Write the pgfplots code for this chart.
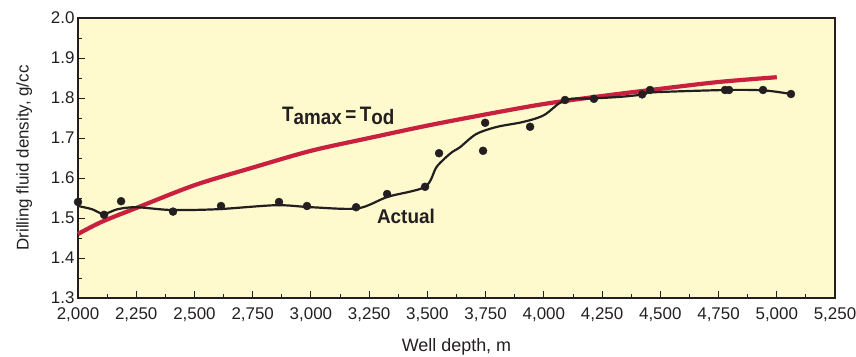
\documentclass[border=0pt]{standalone}
\usepackage{fontspec}
\setmainfont{Liberation Sans}
\newfontfamily\condfont[FakeStretch=0.9]{Liberation Sans}
\newfontfamily\condfontb[FakeStretch=0.95]{Liberation Sans}
\usepackage{pgfplots}
\pgfplotsset{compat=1.18}
\definecolor{bgy}{RGB}{254,250,206}
\definecolor{redc}{RGB}{200,32,62}
\definecolor{frm}{RGB}{35,31,32}
\begin{document}
\begin{tikzpicture}
\begin{axis}[
  scale only axis, width=757bp, height=280bp,
  xmin=2000, xmax=5250, ymin=1.3, ymax=2.0,
  axis background/.style={fill=bgy},
  axis line style={frm, line width=1.8bp},
  xtick={2000,2250,2500,2750,3000,3250,3500,3750,4000,4250,4500,4750,5000,5250},
  ytick={1.3,1.4,1.5,1.6,1.7,1.8,1.9,2.0},
  minor x tick num=1, minor y tick num=1,
  tick align=inside, xtick pos=bottom, ytick pos=left,
  major tick length=7bp, minor tick length=4bp,
  tick style={frm, line width=0.9bp},
  /pgf/number format/assume math mode=true,
  x tick label style={/pgf/number format/1000 sep={,}, font=\fontsize{17}{17}\selectfont, text=frm, yshift=-6bp},
  y tick label style={/pgf/number format/.cd, fixed, fixed zerofill, precision=1, /tikz/.cd, font=\fontsize{17}{17}\selectfont, text=frm},
  scaled ticks=false,
  xlabel={Well depth, m}, ylabel={Drilling fluid density, g/cc},
  xlabel style={font=\fontsize{18}{18}\selectfont, text=frm, yshift=-10bp},
  ylabel style={font=\fontsize{17}{17}\selectfont, text=frm, yshift=12bp},
  clip=false,
]
\coordinate (sw) at (rel axis cs:0,0);
% red curve T_amax = T_od
\addplot[redc, line width=4.2bp, smooth, tension=0.5] coordinates {
(2000,1.460) (2100,1.490) (2250,1.525) (2500,1.582) (2750,1.626) (3000,1.668)
(3250,1.700) (3500,1.731) (3750,1.759) (4000,1.785) (4250,1.805) (4500,1.823)
(4750,1.840) (5000,1.852)};
% smooth fit of actual
\addplot[frm, line width=2.2bp, smooth, tension=0.5] coordinates {
(2000,1.530) (2060,1.522) (2110,1.510) (2170,1.522) (2250,1.527) (2400,1.520)
(2600,1.522) (2850,1.532) (3000,1.527) (3200,1.524) (3330,1.553) (3490,1.578)
(3540,1.628) (3600,1.662) (3640,1.677) (3710,1.710) (3800,1.728) (3910,1.740)
(4000,1.757) (4091,1.795) (4215,1.799) (4330,1.803) (4430,1.809) (4460,1.814)
(4780,1.820) (4945,1.819) (5061,1.810)};
% actual data points
\addplot[only marks, mark=*, mark size=4bp, frm, mark options={fill=frm}] coordinates {
(2000,1.540) (2112,1.508) (2185,1.542) (2408,1.516) (2614,1.530) (2863,1.540)
(2983,1.530) (3194,1.527) (3327,1.560) (3490,1.578) (3550,1.662) (3739,1.668)
(3748,1.738) (3941,1.728) (4091,1.795) (4215,1.798) (4422,1.809) (4456,1.820)
(4778,1.820) (4795,1.820) (4941,1.820) (5061,1.810)};
\node[anchor=base west, inner sep=0pt, text=frm, font=\fontsize{21}{21}\selectfont\condfont\bfseries]
  at (axis cs:2876,1.741) {T\raisebox{-3.3bp}{amax}\,=\,T\raisebox{-3.3bp}{od}};
\node[anchor=base west, inner sep=0pt, text=frm, font=\fontsize{20}{20}\selectfont\condfontb\bfseries]
  at (axis cs:3283,1.4875) {Actual};
\end{axis}
\pgfresetboundingbox
\path (sw) ++(-78bp,-59bp) rectangle ++(856bp,357bp);
\end{tikzpicture}
\end{document}
